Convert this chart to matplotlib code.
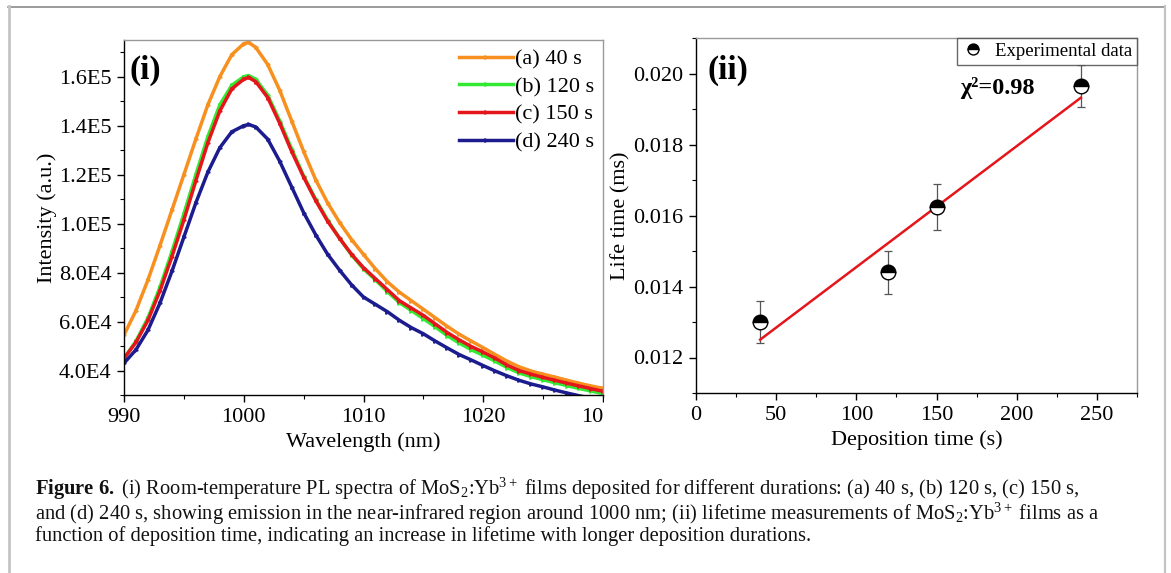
import numpy as np
import matplotlib
matplotlib.use("Agg")
import matplotlib.pyplot as plt
from matplotlib.lines import Line2D
from matplotlib.patches import Rectangle
from matplotlib.ticker import MultipleLocator

plt.rcParams['font.family'] = ['Liberation Serif', 'DejaVu Serif']
plt.rcParams['mathtext.fontset'] = 'custom'
plt.rcParams['mathtext.rm'] = 'Liberation Serif'
plt.rcParams['mathtext.it'] = 'Liberation Serif:italic'
plt.rcParams['mathtext.bf'] = 'Liberation Serif:bold'

# ---------------- data: panel (i) PL spectra ----------------
wavelength = [990, 991, 992, 993, 994, 995, 996, 997, 998, 999, 1000, 1000.4,
              1001, 1002, 1003, 1004, 1005, 1006, 1007, 1008, 1009, 1010,
              1011, 1012, 1013, 1014, 1015, 1016, 1017, 1018, 1019, 1020,
              1021, 1022, 1023, 1024, 1025, 1026, 1027, 1028, 1029, 1030]
int_40s = [5.45, 6.45, 7.7, 9.1, 10.55, 12.0, 13.45, 14.85, 16.0, 16.9, 17.35, 17.4,
           17.2, 16.5, 15.45, 14.2, 12.95, 11.8, 10.85, 10.05, 9.35, 8.74,
           8.15, 7.62, 7.2, 6.85, 6.5, 6.15, 5.8, 5.48, 5.2, 4.93,
           4.65, 4.38, 4.15, 3.98, 3.85, 3.73, 3.6, 3.48, 3.37, 3.27]
int_120s = [4.5, 5.2, 6.15, 7.4, 8.85, 10.4, 12.0, 13.55, 14.85, 15.65, 16.0, 16.05,
            15.9, 15.25, 14.2, 13.05, 11.95, 11.0, 10.15, 9.4, 8.72, 8.15,
            7.7, 7.22, 6.77, 6.45, 6.12, 5.78, 5.42, 5.12, 4.85, 4.62,
            4.38, 4.12, 3.9, 3.75, 3.62, 3.5, 3.38, 3.27, 3.16, 3.06]
int_150s = [4.5, 5.15, 6.05, 7.25, 8.65, 10.15, 11.75, 13.3, 14.6, 15.5, 15.9, 15.97,
            15.8, 15.15, 14.1, 12.95, 11.9, 10.95, 10.1, 9.4, 8.75, 8.2,
            7.75, 7.3, 6.85, 6.55, 6.25, 5.9, 5.55, 5.25, 4.98, 4.75,
            4.5, 4.22, 4.0, 3.85, 3.72, 3.6, 3.48, 3.37, 3.26, 3.15]
int_240s = [4.3, 4.85, 5.65, 6.75, 8.05, 9.45, 10.85, 12.1, 13.1, 13.75, 14.0, 14.05,
            13.95, 13.45, 12.55, 11.5, 10.45, 9.55, 8.75, 8.1, 7.5, 7.0,
            6.7, 6.4, 6.05, 5.75, 5.5, 5.2, 4.92, 4.65, 4.43, 4.2,
            3.98, 3.78, 3.6, 3.45, 3.33, 3.2, 3.08, 2.97, 2.87, 2.78]
int_scale = 1e4
series_labels = ['(a) 40 s', '(b) 120 s', '(c) 150 s', '(d) 240 s']
series_colors = ['#F7901E', '#33E833', '#E5161B', '#1C1C8E']
x_ticks_i = [990, 1000, 1010, 1020, 1030]
x_ticklabels_i = ['990', '1000', '1010', '1020', '1030']
y_ticks_i = [4.0e4, 6.0e4, 8.0e4, 1.0e5, 1.2e5, 1.4e5, 1.6e5]
y_ticklabels_i = ['4.0E4', '6.0E4', '8.0E4', '1.0E5', '1.2E5', '1.4E5', '1.6E5']

# ---------------- data: panel (ii) lifetime ----------------
dep_time = [40, 120, 150, 240]
lifetime = [0.0130, 0.0144, 0.01625, 0.01965]
lifetime_err = [0.0006, 0.0006, 0.00065, 0.0006]
chi_text = 'χ²=0.98'
x_ticks_ii = [0, 50, 100, 150, 200, 250]
y_ticks_ii = [0.012, 0.014, 0.016, 0.018, 0.020]

caption_lines = [
    r'$\mathbf{Figure\ 6.}$ (i) Room-temperature PL spectra of MoS$_2$:Yb$^{3+}$ films deposited for different durations: (a) 40 s, (b) 120 s, (c) 150 s,',
    r'and (d) 240 s, showing emission in the near-infrared region around 1000 nm; (ii) lifetime measurements of MoS$_2$:Yb$^{3+}$ films as a',
    'function of deposition time, indicating an increase in lifetime with longer deposition durations.',
]

W, H = 1171, 573
fig = plt.figure(figsize=(W / 100, H / 100), dpi=100)

TICK_FS = 16
LABEL_FS = 16


def style_axes(ax):
    for s in ['top', 'right']:
        ax.spines[s].set_color('#9a9a9a')
    for s in ['left', 'bottom']:
        ax.spines[s].set_color('black')
    for s in ax.spines.values():
        s.set_linewidth(1.0)
    ax.tick_params(which='major', direction='out', length=5, width=1,
                   labelsize=TICK_FS, top=False, right=False, pad=4)
    ax.tick_params(which='minor', direction='out', length=3, width=0.8,
                   top=False, right=False)


# ---------------- panel (i) ----------------
ax1 = fig.add_axes([124 / W, 1 - 395 / H, 479 / W, 355 / H])
series = [int_40s, int_120s, int_150s, int_240s]
for vals, lab, col in zip(series, series_labels, series_colors):
    ax1.plot(wavelength, np.array(vals) * int_scale, color=col, lw=2.5,
             marker='>', ms=2.5, mec=col, mfc=col, label=lab)
ax1.set_xlim(990, 1030)
ax1.set_ylim(3.0e4, 1.75e5)
ax1.set_xticks(x_ticks_i)
ax1.set_xticklabels(x_ticklabels_i)
ax1.set_yticks(y_ticks_i)
ax1.set_yticklabels(y_ticklabels_i)
ax1.xaxis.set_minor_locator(MultipleLocator(5))
ax1.yaxis.set_minor_locator(MultipleLocator(1e4))
style_axes(ax1)
ax1.set_xlabel('Wavelength (nm)', fontsize=LABEL_FS, labelpad=4)
ax1.set_ylabel('Intensity (a.u.)', fontsize=LABEL_FS, labelpad=1)
ax1.text(0.012, 0.915, '(i)', transform=ax1.transAxes, fontsize=24,
         fontweight='bold', ha='left', va='center')
leg1 = ax1.legend(loc='upper right', frameon=False, fontsize=16,
                  handlelength=2.4, handletextpad=0.1, labelspacing=0.32,
                  borderaxespad=0.2, borderpad=0.2)

# ---------------- panel (ii) ----------------
ax2 = fig.add_axes([696 / W, 1 - 393 / H, 441 / W, 355 / H])
coef = np.polyfit(dep_time, lifetime, 1)
fit_x = np.array([min(dep_time), max(dep_time)])
ax2.plot(fit_x, np.polyval(coef, fit_x), color='#E5161B', lw=1.8, zorder=2)
ax2.errorbar(dep_time, lifetime, yerr=lifetime_err, fmt='none',
             ecolor='#555555', elinewidth=0.9, capsize=3, capthick=0.9, zorder=1)
ax2.plot(dep_time, lifetime, ls='none', marker='o', ms=10.5,
         fillstyle='top', mfc='black', mfcalt='white', mec='black', mew=1.0,
         zorder=3, label='Experimental data')
ax2.set_xlim(0, 275)
ax2.set_ylim(0.011, 0.021)
ax2.set_xticks(x_ticks_ii)
ax2.set_yticks(y_ticks_ii)
ax2.set_yticklabels([f'{v:.3f}' for v in y_ticks_ii])
ax2.xaxis.set_minor_locator(MultipleLocator(25))
ax2.yaxis.set_minor_locator(MultipleLocator(0.001))
style_axes(ax2)
ax2.set_xlabel('Deposition time (s)', fontsize=LABEL_FS, labelpad=4)
ax2.set_ylabel('Life time (ms)', fontsize=LABEL_FS, labelpad=2)
ax2.text(0.025, 0.91, '(ii)', transform=ax2.transAxes, fontsize=24,
         fontweight='bold', ha='left', va='center')
ax2.text(165, 0.0196, chi_text, fontsize=17.5, fontweight='bold',
         ha='left', va='center')
leg2 = ax2.legend(loc='upper right', fontsize=13.5, frameon=True, fancybox=False,
                  edgecolor='#444444', markerscale=0.75, handlelength=1.2,
                  handletextpad=0.6, borderaxespad=0.0, borderpad=0.25)
leg2.get_frame().set_linewidth(1.0)

# cropped tick label "1030" -> only "10" visible in the original figure
fig.patches.append(Rectangle((604 / W, 1 - 430 / H), 50 / W, 32 / H,
                             transform=fig.transFigure, facecolor='white',
                             edgecolor='none', zorder=10))

# ---------------- caption (one multi-line text) ----------------
fig.text(35 / W, 1 - 476 / H, '\n'.join(caption_lines), fontsize=14.8,
         ha='left', va='top', color='#111111', linespacing=0.93)

# ---------------- outer frame ----------------
fig.add_artist(Line2D([8 / W, 1165 / W], [1 - 6.5 / H, 1 - 6.5 / H],
                      transform=fig.transFigure, color='#8a8a8a', lw=1.2))
fig.add_artist(Line2D([9 / W, 9 / W], [0, 1 - 6 / H],
                      transform=fig.transFigure, color='#c4c4c4', lw=2.0))
fig.add_artist(Line2D([1165 / W, 1165 / W], [0, 1 - 6 / H],
                      transform=fig.transFigure, color='#c4c4c4', lw=1.6))

fig.savefig('out.png', dpi=100)
